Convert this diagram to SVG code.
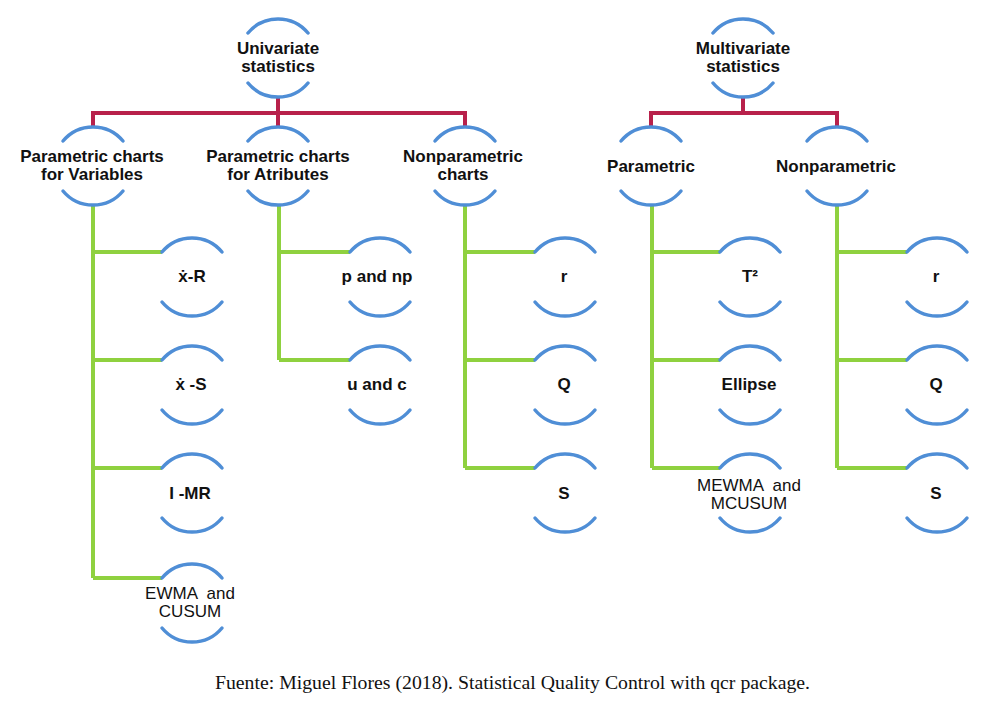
<svg xmlns="http://www.w3.org/2000/svg" width="999" height="709" viewBox="0 0 999 709">
<style>
.arc{fill:none;stroke:#4f8ed6;stroke-width:3.5;stroke-linecap:round}
.red{fill:none;stroke:#b8214b;stroke-width:4}
.grn{fill:none;stroke:#8fd13f;stroke-width:4}
.t{font-family:"Liberation Sans",Arial,sans-serif;font-size:17px;font-weight:bold;fill:#111;text-anchor:middle}
.tr{font-family:"Liberation Sans",Arial,sans-serif;font-size:17px;fill:#111;text-anchor:middle}
.cap{font-family:"Liberation Serif","Times New Roman",serif;font-size:19px;fill:#111}
</style>
<defs>
<g id="shape">
<path class="arc" d="M-30,-25 A39,39 0 0 1 30,-25"/>
<path class="arc" d="M-30,25 A39,39 0 0 0 30,25"/>
</g>
</defs>
<rect width="999" height="709" fill="#fff"/>
<g id="connectors">
<path class="red" d="M278,97 V113 M93,127 V113 H465 V127 M278,113 V127"/>
<path class="red" d="M743,97 V113 M651,127 V113 H837 V127"/>
<path class="grn" d="M93,205 V578 M93,252 H162 M93,360 H162 M93,468 H162 M93,578 H162"/>
<path class="grn" d="M279,205 V360 M279,252 H350 M279,360 H350"/>
<path class="grn" d="M465,205 V468 M465,252 H535 M465,360 H535 M465,468 H535"/>
<path class="grn" d="M652,205 V468 M652,252 H720 M652,360 H720 M652,468 H720"/>
<path class="grn" d="M837,205 V468 M837,252 H907 M837,360 H907 M837,468 H907"/>
</g>
<g id="univariate"><use href="#shape" x="278" y="58"/><text class="t" x="278" y="54">Univariate</text><text class="t" x="278" y="72">statistics</text></g>
<g id="multivariate"><use href="#shape" x="743" y="58"/><text class="t" x="743" y="54">Multivariate</text><text class="t" x="743" y="72">statistics</text></g>
<g id="param-variables"><use href="#shape" x="93" y="166"/><text class="t" x="92" y="162">Parametric charts</text><text class="t" x="92" y="180">for Variables</text></g>
<g id="param-attributes"><use href="#shape" x="278" y="166"/><text class="t" x="278" y="162">Parametric charts</text><text class="t" x="278" y="180">for Atributes</text></g>
<g id="nonparam-charts"><use href="#shape" x="465" y="166"/><text class="t" x="463" y="162">Nonparametric</text><text class="t" x="463" y="180">charts</text></g>
<g id="m-parametric"><use href="#shape" x="651" y="166"/><text class="t" x="651" y="172">Parametric</text></g>
<g id="m-nonparametric"><use href="#shape" x="837" y="166"/><text class="t" x="836" y="172">Nonparametric</text></g>
<g id="xr"><use href="#shape" x="192" y="277"/><text class="t" x="192" y="282">ẋ-R</text></g>
<g id="xs"><use href="#shape" x="192" y="385"/><text class="t" x="191" y="390">ẋ -S</text></g>
<g id="imr"><use href="#shape" x="192" y="493"/><text class="t" x="190" y="499">I -MR</text></g>
<g id="ewma"><use href="#shape" x="192" y="603"/><text class="tr" x="190" y="599" xml:space="preserve">EWMA  and</text><text class="tr" x="190" y="617">CUSUM</text></g>
<g id="pnp"><use href="#shape" x="380" y="277"/><text class="t" x="377" y="282">p and np</text></g>
<g id="uc"><use href="#shape" x="380" y="385"/><text class="t" x="377" y="390">u and c</text></g>
<g id="r1"><use href="#shape" x="565" y="277"/><text class="t" x="564" y="282">r</text></g>
<g id="q1"><use href="#shape" x="565" y="385"/><text class="t" x="564" y="390">Q</text></g>
<g id="s1"><use href="#shape" x="565" y="493"/><text class="t" x="564" y="499">S</text></g>
<g id="t2"><use href="#shape" x="750" y="277"/><text class="t" x="750" y="282">T²</text></g>
<g id="ellipse"><use href="#shape" x="750" y="385"/><text class="t" x="749" y="390">Ellipse</text></g>
<g id="mewma"><use href="#shape" x="750" y="493"/><text class="tr" x="749" y="491" xml:space="preserve">MEWMA  and</text><text class="tr" x="749" y="509">MCUSUM</text></g>
<g id="r2"><use href="#shape" x="937" y="277"/><text class="t" x="936" y="282">r</text></g>
<g id="q2"><use href="#shape" x="937" y="385"/><text class="t" x="936" y="390">Q</text></g>
<g id="s2"><use href="#shape" x="937" y="493"/><text class="t" x="936" y="499">S</text></g>
<text class="cap" x="215" y="689" textLength="595" lengthAdjust="spacingAndGlyphs">Fuente: Miguel Flores (2018). Statistical Quality Control with qcr package.</text>
</svg>
